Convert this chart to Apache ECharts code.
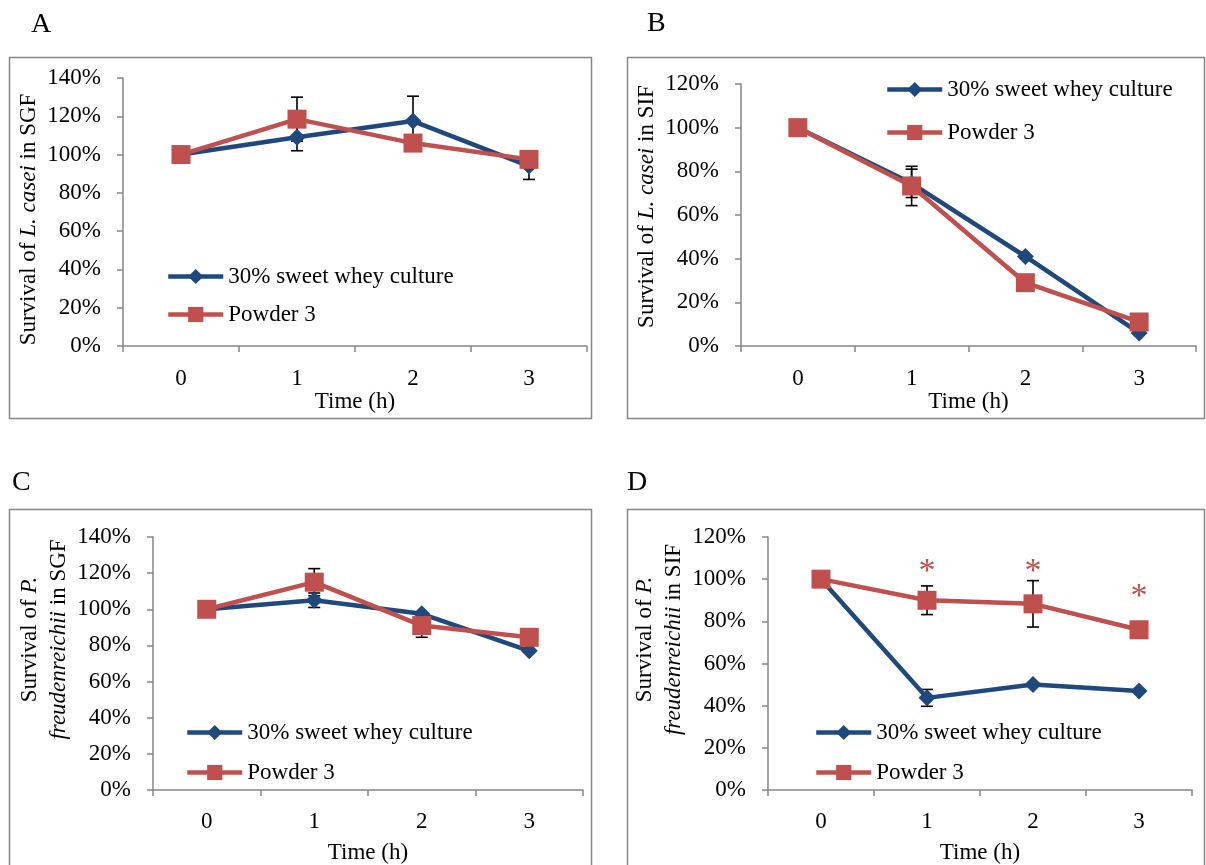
<!DOCTYPE html>
<html>
<head>
<meta charset="utf-8">
<script src="https://cdn.jsdelivr.net/npm/echarts@6/dist/echarts.min.js"></script>
<style>
html,body{margin:0;padding:0;background:#fff;}
#chart{width:1206px;height:865px;}
</style>
</head>
<body>
<div id="chart"></div>
<script>
// ---------- data ----------
const categories = ['0', '1', '2', '3'];
const seriesNames = ['30% sweet whey culture', 'Powder 3'];

// Panel A: L. casei in SGF
const A_whey = [100, 109, 117.5, 94];
const A_wheyErr = [0, 7, 13, 7];
const A_powder = [100, 118.5, 106, 97.5];
const A_powderErr = [0, 11.5, 0, 0];

// Panel B: L. casei in SIF
const B_whey = [100, 74.5, 41, 6];
const B_wheyErr = [0, 6.5, 0, 0];
const B_powder = [100, 73.3, 29, 11];
const B_powderErr = [0, 9, 0, 0];

// Panel C: P. freudenreichii in SGF
const C_whey = [100, 105, 97.5, 77];
const C_wheyErr = [0, 4, 0, 0];
const C_powder = [100, 115, 91, 84.5];
const C_powderErr = [0, 7.5, 6.5, 0];

// Panel D: P. freudenreichii in SIF
const D_whey = [100, 43.7, 50, 47];
const D_wheyErr = [0, 4, 0, 0];
const D_powder = [100, 90, 88.3, 76];
const D_powderErr = [0, 6.8, 11, 0];
const D_sigY = [null, 103.2, 103.2, 91.7]; // asterisk (significance) positions

const yMaxes = [140, 120, 140, 120];
const yStep = 20;

// ---------- style ----------
const FONT = '"Liberation Serif", "Times New Roman", serif';
const FS = 23;
const BLUE = '#1F497D';
const RED = '#C0504D';
const AXIS = '#868686';

const grids = [
  {left: 123, top: 78, width: 464, height: 268},
  {left: 741, top: 84, width: 455, height: 262},
  {left: 153, top: 537, width: 430, height: 255},
  {left: 768, top: 537, width: 424, height: 255}
];
const yNames = [
  'Survival of {i|L. casei} in SGF',
  'Survival of {i|L. casei} in SIF',
  'Survival of {i|P.}\n{i|freudenreichii} in SGF',
  'Survival of {i|P.}\n{i|freudenreichii} in SIF'
];
const yNameGaps = [78, 76, 80, 78];
const yNamePads = [[0, 15, 0, 0], [0, 0, 0, 17], [0, 0, 0, 48], [0, 0, 0, 48]];
const xNameGaps = [44, 44, 51, 51];
const xLabelMargins = [21, 21, 20, 20];
const legendPos = [
  {left: 166, top: 265, itemGap: 15},
  {left: 885, top: 78, itemGap: 20},
  {left: 185, top: 721, itemGap: 17},
  {left: 814, top: 721, itemGap: 17}
];

const panels = [
  [A_whey, A_wheyErr, A_powder, A_powderErr],
  [B_whey, B_wheyErr, B_powder, B_powderErr],
  [C_whey, C_wheyErr, C_powder, C_powderErr],
  [D_whey, D_wheyErr, D_powder, D_powderErr]
];

function errData(vals, errs) {
  const out = [];
  vals.forEach((v, i) => { if (errs[i] > 0) out.push([i, v - errs[i], v + errs[i]]); });
  return out;
}
function errRender(params, api) {
  const x = api.value(0);
  const pLo = api.coord([x, api.value(1)]);
  const pHi = api.coord([x, api.value(2)]);
  const w = 6;
  const style = {stroke: '#000', lineWidth: 1.6};
  return {type: 'group', children: [
    {type: 'line', shape: {x1: pHi[0], y1: pHi[1], x2: pLo[0], y2: pLo[1]}, style},
    {type: 'line', shape: {x1: pHi[0] - w, y1: pHi[1], x2: pHi[0] + w, y2: pHi[1]}, style},
    {type: 'line', shape: {x1: pLo[0] - w, y1: pLo[1], x2: pLo[0] + w, y2: pLo[1]}, style}
  ]};
}
function starRender(params, api) {
  const p = api.coord([api.value(0), api.value(1)]);
  return {type: 'text', x: p[0], y: p[1], style: {text: '*', fill: RED, font: '34px ' + FONT, align: 'center', verticalAlign: 'middle'}};
}

const xAxes = [], yAxes = [], series = [], legends = [];
grids.forEach((g, k) => {
  xAxes.push({
    type: 'category', gridIndex: k, data: categories, boundaryGap: true,
    name: 'Time (h)', nameLocation: 'middle', nameGap: xNameGaps[k],
    nameTextStyle: {fontFamily: FONT, fontSize: FS, color: '#000'},
    axisLine: {lineStyle: {color: AXIS, width: 1.5}},
    axisTick: {show: true, length: 6, inside: false, alignWithLabel: false, lineStyle: {color: AXIS, width: 1.5}},
    axisLabel: {fontFamily: FONT, fontSize: FS, color: '#000', margin: xLabelMargins[k]},
    splitLine: {show: false}
  });
  yAxes.push({
    type: 'value', gridIndex: k, min: 0, max: yMaxes[k], interval: yStep,
    name: yNames[k], nameLocation: 'middle', nameRotate: 90, nameGap: yNameGaps[k],
    nameTextStyle: {fontFamily: FONT, fontSize: FS, color: '#000', lineHeight: 29, padding: yNamePads[k],
      rich: {i: {fontFamily: FONT, fontSize: FS, fontStyle: 'italic', color: '#000', lineHeight: 29}}},
    axisLine: {show: true, lineStyle: {color: AXIS, width: 1.5}},
    axisTick: {show: true, length: 6, lineStyle: {color: AXIS, width: 1.5}},
    axisLabel: {fontFamily: FONT, fontSize: FS, color: '#000', margin: 22, formatter: '{value}%'},
    splitLine: {show: false}
  });
  const [wv, we, pv, pe] = panels[k];
  series.push({
    type: 'custom', xAxisIndex: k, yAxisIndex: k, z: 1, silent: true,
    renderItem: errRender, data: errData(wv, we).concat(errData(pv, pe))
  });
  series.push({
    name: seriesNames[0], type: 'line', xAxisIndex: k, yAxisIndex: k, z: 3,
    data: wv, symbol: 'diamond', symbolSize: 17,
    lineStyle: {color: BLUE, width: 4.5}, itemStyle: {color: BLUE}
  });
  series.push({
    name: seriesNames[1], type: 'line', xAxisIndex: k, yAxisIndex: k, z: 4,
    data: pv, symbol: 'rect', symbolSize: 19,
    lineStyle: {color: RED, width: 4.5}, itemStyle: {color: RED}
  });
  legends.push({
    orient: 'vertical', left: legendPos[k].left, top: legendPos[k].top, padding: 0,
    itemGap: legendPos[k].itemGap, itemWidth: 55, itemHeight: 19, itemTextGap: 5,
    data: seriesNames, selectedMode: false,
    textStyle: {fontFamily: FONT, fontSize: FS, color: '#000'},
    lineStyle: {width: 4.5}
  });
});
series.push({
  type: 'custom', xAxisIndex: 3, yAxisIndex: 3, z: 5, silent: true,
  renderItem: starRender,
  data: D_sigY.map((v, i) => v == null ? null : [i, v]).filter(d => d)
});

const letterFont = '28px ' + FONT;
const graphic = [
  {type: 'rect', shape: {x: 9.5, y: 57.5, width: 582, height: 361}, style: {fill: 'none', stroke: AXIS, lineWidth: 1.5}, silent: true},
  {type: 'rect', shape: {x: 627.5, y: 57.5, width: 577, height: 361}, style: {fill: 'none', stroke: AXIS, lineWidth: 1.5}, silent: true},
  {type: 'rect', shape: {x: 9.5, y: 509.5, width: 582, height: 380}, style: {fill: 'none', stroke: AXIS, lineWidth: 1.5}, silent: true},
  {type: 'rect', shape: {x: 627.5, y: 509.5, width: 577, height: 380}, style: {fill: 'none', stroke: AXIS, lineWidth: 1.5}, silent: true},
  {type: 'text', left: 31, top: 11, style: {text: 'A', font: letterFont, fill: '#000'}},
  {type: 'text', left: 647, top: 10, style: {text: 'B', font: letterFont, fill: '#000'}},
  {type: 'text', left: 12, top: 469, style: {text: 'C', font: letterFont, fill: '#000'}},
  {type: 'text', left: 627, top: 469, style: {text: 'D', font: letterFont, fill: '#000'}}
];

const chart = echarts.init(document.getElementById('chart'), null, {renderer: 'canvas'});
chart.setOption({
  animation: false,
  backgroundColor: '#fff',
  grid: grids,
  xAxis: xAxes,
  yAxis: yAxes,
  legend: legends,
  series: series,
  graphic: graphic
});
</script>
</body>
</html>
